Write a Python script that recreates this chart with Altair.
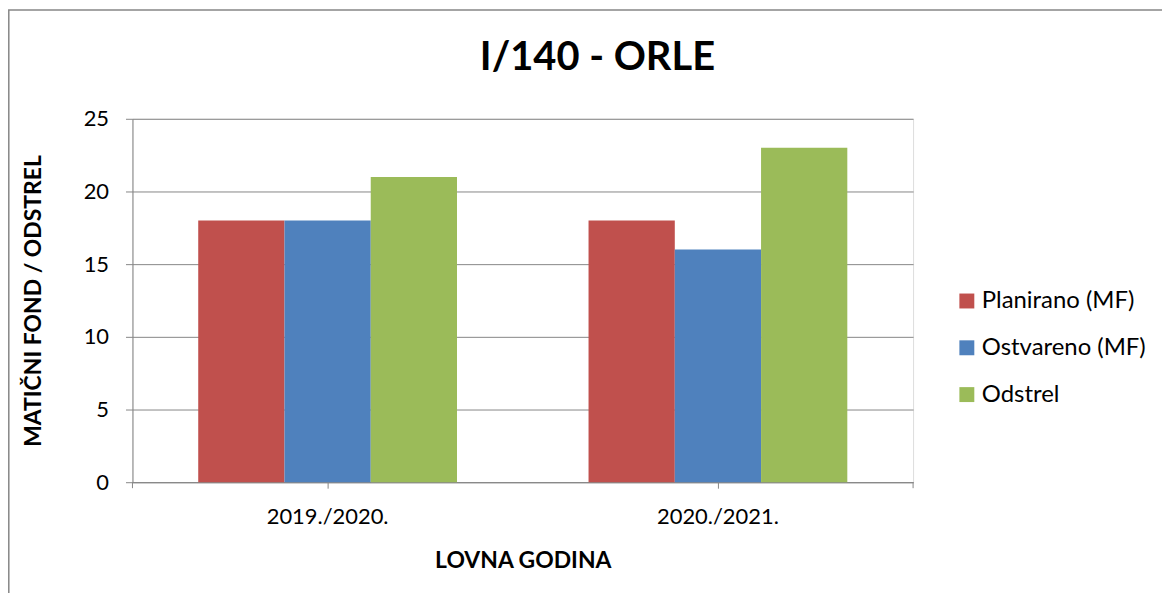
import altair as alt
import pandas as pd

categories = ["2019./2020.", "2020./2021."]
series = ["Planirano (MF)", "Ostvareno (MF)", "Odstrel"]
planirano = [18, 18]
ostvareno = [18, 16]
odstrel = [21, 23]
colors = ["#C0504D", "#4F81BD", "#9BBB59"]
y_ticks = [0, 5, 10, 15, 20, 25]

rows = []
for i, c in enumerate(categories):
    for s, vals in zip(series, [planirano, ostvareno, odstrel]):
        rows.append({"godina": c, "serija": s, "vrijednost": vals[i]})
df = pd.DataFrame(rows)

FONT = "Lato"
W, H = 784, 365

bars = alt.Chart(df).mark_bar().encode(
    x=alt.X("godina:N", sort=categories,
            scale=alt.Scale(paddingInner=0.337, paddingOuter=0.1685),
            axis=alt.Axis(title="LOVNA GODINA", labelAngle=0, labelFontSize=22,
                          labelFont=FONT, labelColor="#000", labelPadding=18,
                          titleFont=FONT, titleFontSize=23, titleFontWeight="bold",
                          titleColor="#000", titlePadding=23,
                          domainColor="#868686", tickColor="#868686", tickSize=6,
                          grid=False)),
    xOffset=alt.XOffset("serija:N", sort=series, scale=alt.Scale(paddingInner=0, paddingOuter=0)),
    y=alt.Y("vrijednost:Q", scale=alt.Scale(domain=[0, 25], nice=False),
            axis=alt.Axis(title="MATIČNI FOND / ODSTREL", values=y_ticks,
                          labelFontSize=22, labelFont=FONT, labelColor="#000",
                          labelPadding=17, titleFont=FONT, titleFontSize=23,
                          titleFontWeight="bold", titleColor="#000", titlePadding=38,
                          domainColor="#868686", tickColor="#868686", tickSize=7,
                          gridColor="#868686", gridWidth=1)),
    color=alt.Color("serija:N", sort=series,
                    scale=alt.Scale(domain=series, range=colors),
                    legend=alt.Legend(title=None, orient="none", legendX=826, legendY=171,
                                      symbolType="square", symbolSize=225,
                                      symbolStrokeWidth=0, labelFont=FONT,
                                      labelFontSize=24, labelColor="#000",
                                      labelLimit=400,
                                      rowPadding=23, labelOffset=3)),
)

end_ticks = alt.Chart(pd.DataFrame({"k": [0, 1]})).mark_rule(color="#868686").encode(
    x=alt.X("k:Q", scale=alt.Scale(domain=[0, 1]), axis=None),
    y=alt.value(H), y2=alt.value(H + 6),
)

border = alt.Chart(pd.DataFrame({"k": [0]})).mark_rect(
    fill=None, stroke="#868686", strokeWidth=1.5
).encode(
    x=alt.value(-124.2), x2=alt.value(1100),
    y=alt.value(-109.2), y2=alt.value(520),
)

chart = alt.layer(border, bars, end_ticks).resolve_scale(x="independent").properties(
    width=W, height=H,
    padding={"left": 125, "top": 110, "right": 250, "bottom": 110},
    autosize=alt.AutoSizeParams(type="none"),
    title=alt.TitleParams("I/140 - ORLE", font=FONT, fontSize=40, fontWeight="bold",
                          color="#000", anchor="middle", dx=75, dy=69, offset=0),
).configure_view(stroke=None).configure(background="white")

chart.save("out.html", embed_options={"renderer": "svg", "actions": False})
